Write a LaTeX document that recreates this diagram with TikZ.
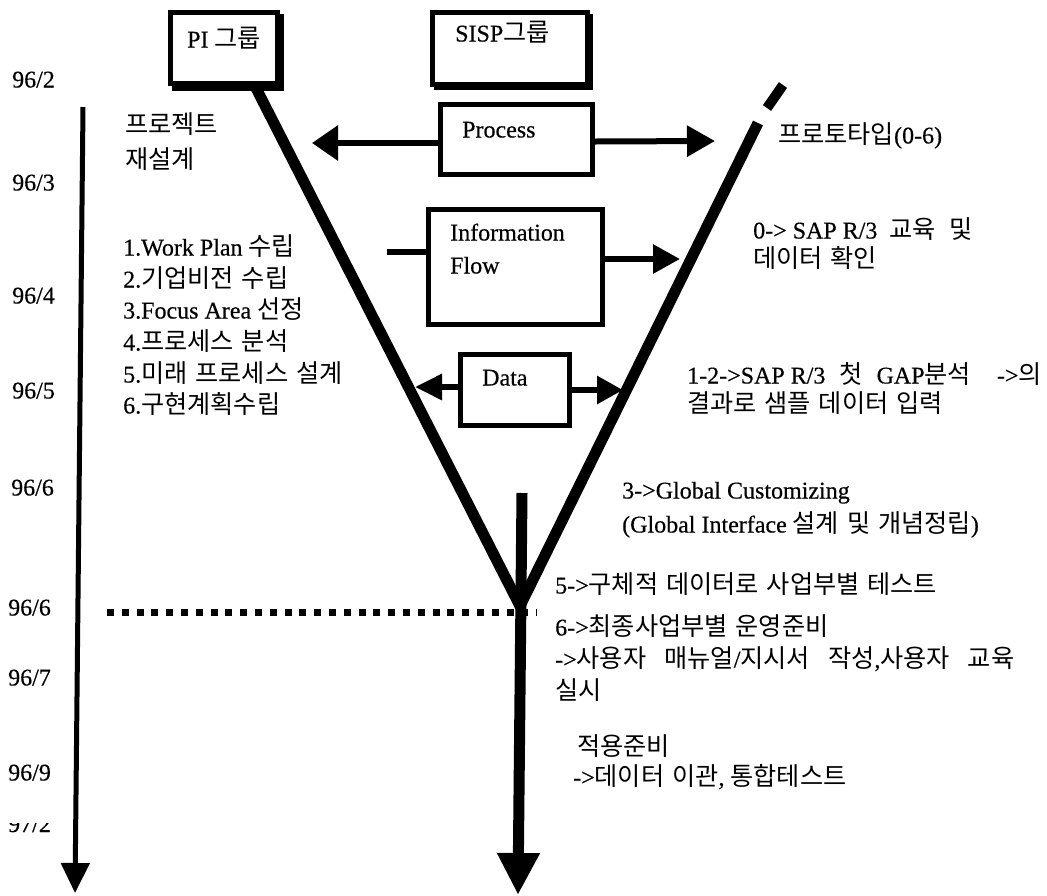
\documentclass[tikz,border=0pt]{standalone}
\usepackage{fontspec}
\setmainfont{Liberation Serif}[FakeBold=0.4]
\newfontfamily\krf{Noto Sans CJK KR}[Scale=1.05,WordSpace=1.4]
\newcommand{\K}[1]{{\krf #1}}
\usetikzlibrary{arrows.meta}
\begin{document}
\begin{tikzpicture}[x=1pt,y=-1pt,
  box/.style={draw=black, line width=5pt, fill=white, rectangle, inner sep=0pt},
  txt/.style={anchor=west, inner sep=0pt, text height=16pt, text depth=5pt, font=\fontsize{24}{28}\selectfont},
  arm/.style={line width=11pt, line join=miter},
  stub/.style={line width=6pt}
]
\useasboundingbox (0,0) rectangle (1047,895);
\fill[white] (0,0) rectangle (1047,895);

% timeline
\coordinate (tt) at (83,107);
\coordinate (te) at (75,893);
\draw[line width=5pt, -{Triangle[length=30pt,width=28pt]}] (tt) -- (te);

% dates
\node[txt] (d2) at (12,82) {96/2};
\node[txt] (d3) at (12,185) {96/3};
\node[txt] (d4) at (12,298) {96/4};
\node[txt] (d5) at (12,393) {96/5};
\node[txt] (d6a) at (11,490) {96/6};
\node[txt] (d6b) at (8,610) {96/6};
\node[txt] (d7) at (8,680) {96/7};
\node[txt] (d9) at (8,775) {96/9};
\begin{scope}
  \clip (0,823.5) rectangle (70,840);
  \node[txt] (d12) at (8,826.5) {97/2};
\end{scope}

% V arms
\coordinate (lt) at (256,88);
\coordinate (vb) at (520,606);
\coordinate (rt) at (758,123);
\draw[arm] (lt) -- (vb) -- (rt);
\coordinate (rd1) at (767,108);
\coordinate (rd2) at (783,85);
\draw[line width=10pt] (rd1) -- (rd2);

% main vertical arrow
\coordinate (vt) at (522,493);
\coordinate (ve) at (518,895);
\draw[line width=11pt, -{Triangle[length=42pt,width=40pt]}] (vt) -- (ve);

% dotted line
\coordinate (dl1) at (107,612);
\coordinate (dl2) at (537,612);
\draw[line width=7pt, dash pattern=on 7pt off 7.8pt] (dl1) -- (dl2);

% group boxes with shadow
\fill (172,14) rectangle (284,91);
\node[box, minimum width=107pt, minimum height=71pt] (pi) at (224,48) {};
\fill (434,14) rectangle (593,90);
\node[box, minimum width=155pt, minimum height=72pt] (sisp) at (510,48.5) {};
\node[txt] (pit) at (187,42) {PI \K{그룹}};
\node[txt] (sispt) at (455,36) {SISP\K{그룹}};

% Process
\node[box, minimum width=152pt, minimum height=70pt] (proc) at (516.5,139.5) {};
\node[txt] (proct) at (462,132) {Process};
\coordinate (pl) at (312,143);
\coordinate (pr) at (715,141);
\draw[line width=6pt, -{Triangle[length=26pt,width=34pt]}] ([yshift=-3.5pt]proc.west) -- (pl);
\draw[line width=6pt, -{Triangle[length=28pt,width=30pt]}] ([yshift=-2pt]proc.east) -- (pr);

% Information Flow
\node[box, minimum width=174pt, minimum height=115pt] (info) at (515.5,267) {};
\node[txt] (infot1) at (450,235) {Information};
\node[txt] (infot2) at (450,268) {Flow};
\coordinate (il) at (387,252);
\coordinate (ir) at (680,259);
\draw[stub] ([yshift=15pt]info.west) -- (il);
\draw[line width=6pt, -{Triangle[length=27pt,width=28pt]}] ([yshift=8pt]info.east) -- (ir);

% Data
\node[box, minimum width=109pt, minimum height=71pt] (data) at (515,390) {};
\node[txt] (datat) at (482,380) {Data};
\coordinate (dal) at (415,387);
\coordinate (dar) at (623,390);
\draw[line width=6pt, -{Triangle[length=27pt,width=25pt]}] ([yshift=3pt]data.west) -- (dal);
\draw[line width=6pt, -{Triangle[length=26pt,width=27pt]}] (data.east) -- (dar);

% left texts
\node[txt] (l0a) at (125,128) {\K{프로젝트}};
\node[txt] (l0b) at (125,163) {\K{재설계}};
\node[txt] (l1) at (123,250) {1.Work Plan \K{수립}};
\node[txt] (l2) at (123,282) {2.\K{기업비전 수립}};
\node[txt] (l3) at (123,313) {3.Focus Area \K{선정}};
\node[txt] (l4) at (123,345) {4.\K{프로세스 분석}};
\node[txt] (l5) at (123,377) {5.\K{미래 프로세스 설계}};
\node[txt] (l6) at (123,408) {6.\K{구현계획수립}};

% right texts
\node[txt] (r0) at (778,138) {\K{프로토타입}(0-6)};
\node[txt] (r1a) at (753,233) {0-> SAP R/3 \hspace{6pt}\K{교육 \hspace{6pt}및}};
\node[txt] (r1b) at (753,262) {\K{데이터 확인}};
\node[txt] (r2a) at (687,378) {1-2->SAP R/3 \hspace{8pt}\K{첫}\hspace{8pt} GAP\K{분석}\hspace{20pt} ->\K{의}};
\node[txt] (r2b) at (687,407) {\K{결과로 샘플 데이터 입력}};
\node[txt] (r3a) at (622,493) {3->Global Customizing};
\node[txt] (r3b) at (622,527) {(Global Interface \K{설계 및 개념정립})};
\node[txt] (r5) at (555,588) {5->\K{구체적 데이터로 사업부별 테스트}};
\node[txt] (r6a) at (555,630) {6->\K{최종사업부별 운영준비}};
\node[txt] (r6b) at (555,662) {->\K{사용자}\hspace{18pt}\K{매뉴얼}/\K{지시서}\hspace{18pt}\K{작성},\K{사용자}\hspace{18pt}\K{교육}};
\node[txt] (r6c) at (555,694) {\K{실시}};
\node[txt] (r7a) at (577,750) {\K{적용준비}};
\node[txt] (r7b) at (573,780) {->\K{데이터 이관}, \K{통합테스트}};
\end{tikzpicture}
\end{document}
